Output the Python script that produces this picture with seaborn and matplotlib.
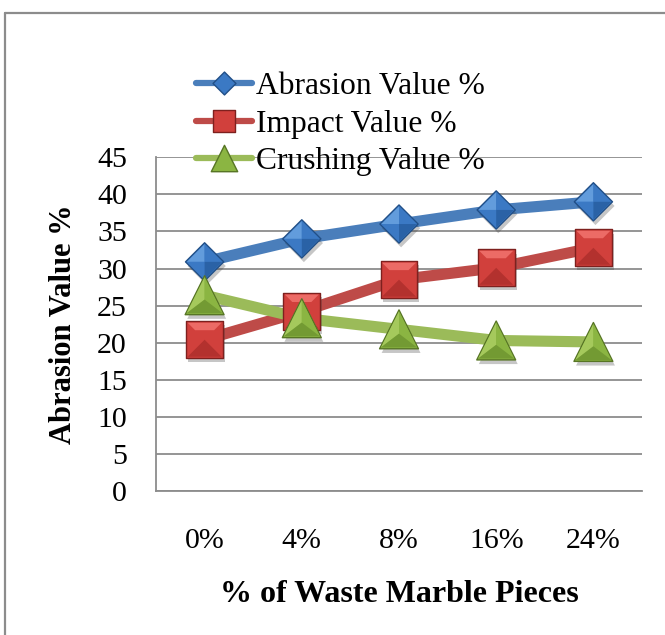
import matplotlib
matplotlib.use("Agg")
import matplotlib.pyplot as plt
import matplotlib.patheffects as pe
from matplotlib.lines import Line2D
from matplotlib.markers import MarkerStyle
from matplotlib.path import Path
import pandas as pd
import seaborn as sns

# Aggregate test results by marble-waste replacement level
categories = ["0%", "4%", "8%", "16%", "24%"]
abrasion = [30.9, 34.0, 36.0, 37.9, 39.0]
impact = [20.4, 24.2, 28.5, 30.1, 32.8]
crushing = [26.4, 23.3, 21.8, 20.3, 20.1]
series_names = ["Abrasion Value %", "Impact Value %", "Crushing Value %"]
y_ticks = [0, 5, 10, 15, 20, 25, 30, 35, 40, 45]

sns.set_theme(style="white")
plt.rcParams["font.family"] = ["Liberation Serif", "DejaVu Serif"]
plt.rcParams.update({"text.color": "black", "axes.labelcolor": "black",
                     "xtick.color": "black", "ytick.color": "black"})

df = pd.DataFrame({
    "level": categories * 3,
    "value": abrasion + impact + crushing,
    "series": [series_names[0]] * 5 + [series_names[1]] * 5 + [series_names[2]] * 5,
})

line_colors = {series_names[0]: "#4A7EBB", series_names[1]: "#BE4B48", series_names[2]: "#9BBB59"}
# (light, mid, dark) shades for the bevelled markers
shades = {
    series_names[0]: ("#629CDC", "#3B79C4", "#2A62A6"),
    series_names[1]: ("#EC6B66", "#D1403C", "#B3312E"),
    series_names[2]: ("#A5C95C", "#8BB542", "#739A33"),
}
edge_colors = {series_names[0]: "#214F87", series_names[1]: "#7E201E", series_names[2]: "#577525"}


def poly(pts):
    return Path(pts + [pts[0]], [Path.MOVETO] + [Path.LINETO] * (len(pts) - 1) + [Path.CLOSEPOLY])


# Marker outlines and their bevel facets (light, mid, dark) in unit marker space
diamond = [(0, 0.5), (0.5, 0), (0, -0.5), (-0.5, 0)]
square = [(-0.5, 0.5), (0.5, 0.5), (0.5, -0.5), (-0.5, -0.5)]
tri = [(0, 0.5), (-0.5, -0.5), (0.5, -0.5)]
c_tri = (0, -0.12)
shapes = {
    series_names[0]: (diamond, [
        ([(-0.5, 0), (0, 0.5), (0, 0)], 0),
        ([(0, 0.5), (0.5, 0), (0, 0)], 1),
        ([(-0.5, 0), (0, -0.5), (0, 0)], 1),
        ([(0.5, 0), (0, -0.5), (0, 0)], 2),
    ]),
    series_names[1]: (square, [
        ([(-0.5, 0.5), (0.5, 0.5), (0.28, 0.28), (-0.28, 0.28)], 0),
        ([(-0.5, -0.5), (0.5, -0.5), (0, 0)], 2),
    ]),
    series_names[2]: (tri, [
        ([(0, 0.5), (-0.5, -0.5), c_tri], 0),
        ([(0, 0.5), (0.5, -0.5), c_tri], 1),
        ([(-0.5, -0.5), (0.5, -0.5), c_tri], 2),
    ]),
}
sizes = {series_names[0]: 27.5, series_names[1]: 26.5, series_names[2]: 28}

W, H = 665, 635
fig = plt.figure(figsize=(W / 100, H / 100), dpi=100)
ax = fig.add_axes([156 / W, 1 - 491 / H, (642 - 156) / W, (491 - 157.3) / H])

sns.lineplot(data=df, x="level", y="value", hue="series", palette=line_colors,
             linewidth=8, sort=False, legend=False, ax=ax, zorder=2)

shadow = [pe.SimplePatchShadow(offset=(1.5, -3), shadow_rgbFace="#444444", alpha=0.3), pe.Normal()]
z = 3.0
for name in series_names:
    sub = df[df["series"] == name]
    outline, facets = shapes[name]
    light, mid, dark = shades[name]
    sns.scatterplot(data=sub, x="level", y="value", marker=MarkerStyle(poly(outline)),
                    s=sizes[name] ** 2, color=mid, edgecolor=edge_colors[name],
                    linewidth=1.0, legend=False, ax=ax, zorder=z)
    ax.collections[-1].set_path_effects(shadow)
    for pts, shade_idx in facets:
        z += 0.01
        sns.scatterplot(data=sub, x="level", y="value", marker=MarkerStyle(poly(pts)),
                        s=(sizes[name] - 2) ** 2, color=shades[name][shade_idx],
                        edgecolor="none", linewidth=0, legend=False, ax=ax, zorder=z)
    z += 0.1

ax.set_xlim(-0.5, 4.5)
ax.set_ylim(0, 45)
ax.set_yticks(y_ticks)
ax.set_yticklabels([str(t) for t in y_ticks])
ax.yaxis.grid(True, color="#8C8C8C", linewidth=1.3)
ax.xaxis.grid(False)
ax.set_axisbelow(True)
for side in ["top", "right"]:
    ax.spines[side].set_visible(False)
for side in ["left", "bottom"]:
    ax.spines[side].set_color("#8C8C8C")
    ax.spines[side].set_linewidth(1.3)
ax.tick_params(axis="y", length=0, pad=21, labelsize=21.5, labelcolor="black")
ax.tick_params(axis="x", length=0, pad=27, labelsize=21.5, labelcolor="black")

ax.set_xlabel("% of Waste Marble Pieces", fontsize=23, fontweight="bold", labelpad=18, color="black")
ax.set_ylabel("Abrasion Value %", fontsize=22, fontweight="bold", labelpad=14, color="black")

legend_sizes = {series_names[0]: 16.5, series_names[1]: 16.5, series_names[2]: 19}
handles = [
    Line2D([], [], color=line_colors[n], linewidth=4.5, solid_capstyle="round",
           marker=MarkerStyle(poly(shapes[n][0])), markersize=legend_sizes[n],
           markerfacecolor=shades[n][1], markeredgecolor=edge_colors[n], markeredgewidth=1)
    for n in series_names
]
fig.legend(handles, series_names, loc="upper left",
           bbox_to_anchor=(196 / W, 1 - 72 / H), frameon=False,
           fontsize=22.7, handlelength=1.78, handletextpad=0.12,
           labelspacing=0.27, borderpad=0, borderaxespad=0, labelcolor="black")

# Chart frame on the left and top edges
fig.add_artist(Line2D([5.5 / W, 5.5 / W], [0, 1 - 13 / H], transform=fig.transFigure,
                      color="#8C8C8C", linewidth=1.6))
fig.add_artist(Line2D([5.5 / W, 1], [1 - 13 / H, 1 - 13 / H], transform=fig.transFigure,
                      color="#8C8C8C", linewidth=1.6))

fig.savefig("out.png", dpi=100, facecolor="white")
